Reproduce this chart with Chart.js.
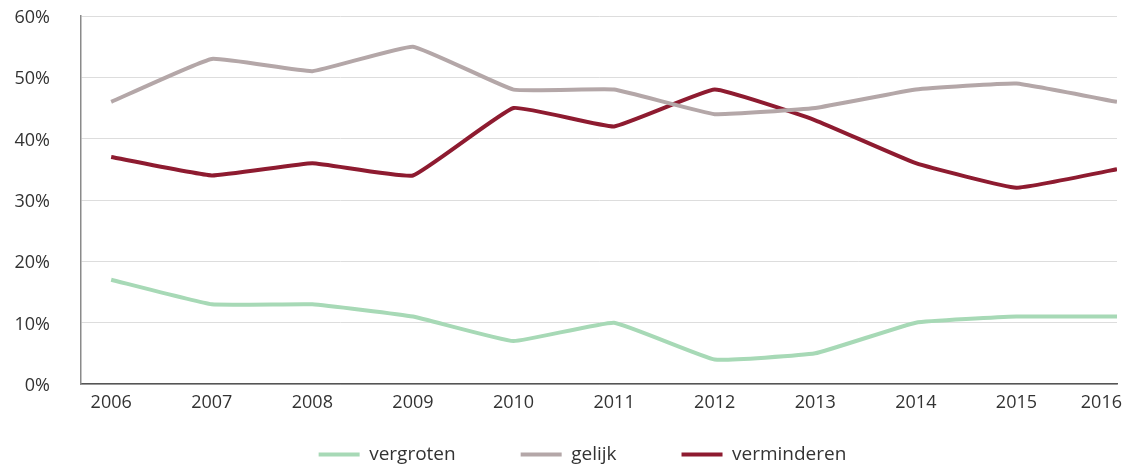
<!DOCTYPE html>
<html>
<head>
<meta charset="utf-8">
<script src="https://cdn.jsdelivr.net/npm/chart.js@4/dist/chart.umd.min.js"></script>
<style>
  html, body { margin: 0; padding: 0; background: #fff; }
  #wrap { width: 1126px; height: 466px; position: relative; }
</style>
</head>
<body>
<div id="wrap"><canvas id="chart"></canvas></div>
<script>
// years on the x axis
const years = [2006, 2007, 2008, 2009, 2010, 2011, 2012, 2013, 2014, 2015, 2016];
// share of answers, in percent
const vergroten   = [17, 13, 13, 11, 7, 10, 4, 5, 10, 11, 11];
const gelijk      = [46, 53, 51, 55, 48, 48, 44, 45, 48, 49, 46];
const verminderen = [37, 34, 36, 34, 45, 42, 48, 43, 36, 32, 35];
const yTicks = [0, 10, 20, 30, 40, 50, 60];

const textColor = '#333333';
const fontFamily = '"Open Sans", Roboto, sans-serif';

function toPoints(values) {
  return years.map((y, i) => ({ x: y, y: values[i] }));
}

// x labels are drawn here so the last one stays inside the canvas
const xLabels = {
  id: 'xLabels',
  afterLayout(chart) {
    // legend sits a bit right of the centre in the original
    chart.legend.left += 48;
  },
  afterDraw(chart) {
    const ctx = chart.ctx;
    const scale = chart.scales.x;
    ctx.save();
    ctx.font = '18px ' + fontFamily;
    ctx.fillStyle = textColor;
    ctx.textAlign = 'center';
    ctx.textBaseline = 'middle';
    years.forEach(y => {
      const label = String(y);
      const half = ctx.measureText(label).width / 2;
      let px = scale.getPixelForValue(y);
      px = Math.min(px, chart.width - half - 4);
      ctx.fillText(label, px, chart.chartArea.bottom + 19);
    });
    ctx.restore();
  }
};

const ds = (label, data, color) => ({
  label: label,
  data: toPoints(data),
  borderColor: color,
  backgroundColor: color,
  borderWidth: 4,
  pointRadius: 0,
  tension: 0.1,
  borderJoinStyle: 'round'
});

new Chart(document.getElementById('chart'), {
  type: 'line',
  data: {
    datasets: [
      ds('vergroten', vergroten, '#a7d9b6'),
      ds('gelijk', gelijk, '#b4a7a8'),
      ds('verminderen', verminderen, '#8e1b30')
    ]
  },
  options: {
    responsive: true,
    maintainAspectRatio: false,
    animation: false,
    layout: { padding: { top: 16, right: 9, bottom: -12, left: 0 } },
    plugins: {
      tooltip: { enabled: false },
      legend: {
        position: 'bottom',
        labels: {
          usePointStyle: true,
          pointStyle: 'line',
          pointStyleWidth: 41,
          boxHeight: 4,
          padding: 65,
          color: textColor,
          font: { family: fontFamily, size: 19 }
        }
      }
    },
    scales: {
      x: {
        type: 'linear',
        min: 2005.7,
        max: 2016,
        afterBuildTicks: s => { s.ticks = years.map(v => ({ value: v })); },
        afterFit: s => { s.paddingLeft = 0; s.paddingRight = 0; s.height = -4; },
        grid: { display: false },
        border: { display: true, color: '#555555', width: 1.5 },
        ticks: { color: 'transparent', font: { family: fontFamily, size: 18 } }
      },
      y: {
        min: 0,
        max: 60,
        afterBuildTicks: s => { s.ticks = yTicks.map(v => ({ value: v })); },
        afterFit: s => { s.width = 81; s.paddingTop = 0; s.paddingBottom = 0; },
        grid: { color: '#dddddd', lineWidth: 1, drawTicks: false },
        border: { display: true, color: '#8a8a8a', width: 1.5 },
        ticks: {
          padding: 31,
          labelOffset: 2,
          color: textColor,
          font: { family: fontFamily, size: 18 },
          callback: v => v + '%'
        }
      }
    }
  },
  plugins: [xLabels]
});
</script>
</body>
</html>
